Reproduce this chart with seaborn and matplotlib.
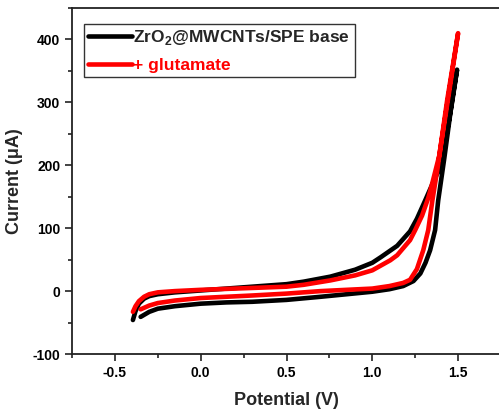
import numpy as np
import pandas as pd
import matplotlib
matplotlib.use('Agg')
import matplotlib.pyplot as plt
from matplotlib.ticker import MultipleLocator
import seaborn as sns

# cyclic voltammograms (forward scan then reverse scan)
base_v = [-0.35, -0.30, -0.25, -0.15, 0.0, 0.15, 0.30, 0.50, 0.70, 0.85, 1.00, 1.10, 1.18, 1.24, 1.28,
          1.31, 1.337, 1.366, 1.384, 1.42, 1.465, 1.494,
          1.465, 1.43, 1.40, 1.35, 1.308, 1.26, 1.22, 1.145, 1.05, 1.00, 0.90, 0.756, 0.60, 0.50, 0.30,
          0.15, 0.0, -0.15, -0.25, -0.30, -0.33, -0.36, -0.38, -0.395]
base_i = [-41, -33, -28, -24, -20, -18, -17, -14, -9, -5, -1, 3, 8, 16, 28,
          45, 65, 97, 144, 212, 303, 352,
          300, 245, 200, 170, 144, 115, 95, 72, 54, 45, 34, 23, 15, 11, 7,
          4, 1, -2, -5, -8, -12, -20, -32, -46]

glu_v = [-0.35, -0.30, -0.25, -0.15, 0.0, 0.15, 0.30, 0.50, 0.70, 0.85, 1.00, 1.10, 1.18, 1.22, 1.26,
         1.297, 1.326, 1.35, 1.38, 1.436, 1.50,
         1.44, 1.39, 1.35, 1.326, 1.29, 1.25, 1.22, 1.145, 1.105, 1.00, 0.90, 0.756, 0.60, 0.50, 0.30,
         0.0, -0.15, -0.25, -0.30, -0.33, -0.36, -0.38, -0.395]
glu_i = [-29, -23, -19, -15, -11, -9, -7, -4, 0, 2, 4, 8, 13, 18, 35,
         65, 97, 144, 195, 303, 410,
         303, 215, 172, 148, 120, 97, 81, 57, 49, 33, 25, 17, 10, 7, 5,
         2, 0, -2, -5, -9, -16, -24, -33]

labels = [r'ZrO$_\mathbf{2}$@MWCNTs/SPE base', '+ glutamate']
colors = ['black', '#ff0000']

df = pd.concat([
    pd.DataFrame({'Potential': base_v, 'Current': base_i, 'series': labels[0]}),
    pd.DataFrame({'Potential': glu_v, 'Current': glu_i, 'series': labels[1]}),
], ignore_index=True)

sns.set_style('ticks')
plt.rcParams['font.family'] = ['Liberation Sans', 'DejaVu Sans']
plt.rcParams['font.weight'] = 'bold'
plt.rcParams['axes.unicode_minus'] = False
plt.rcParams['mathtext.fontset'] = 'custom'
plt.rcParams['mathtext.bf'] = 'Liberation Sans:bold'
plt.rcParams['mathtext.rm'] = 'Liberation Sans:bold'

fig = plt.figure(figsize=(4.99, 4.17), dpi=100)
ax = fig.add_axes([72 / 499, 63 / 417, 429 / 499, 346 / 417])

sns.lineplot(data=df, x='Potential', y='Current', hue='series', palette=colors,
             sort=False, estimator=None, linewidth=3.3, ax=ax)

ax.set_xlim(-0.75, 1.75)
ax.set_ylim(-100, 450)
ax.xaxis.set_minor_locator(MultipleLocator(0.25))
ax.yaxis.set_minor_locator(MultipleLocator(50))
ax.set_xticks([-0.5, 0.0, 0.5, 1.0, 1.5])
ax.set_yticks([-100, 0, 100, 200, 300, 400])
ax.tick_params(which='major', direction='out', length=5, width=1.2, labelsize=10,
               color='#222222', labelcolor='black')
ax.tick_params(which='minor', direction='out', length=3, width=1.2, color='#222222')
for s in ax.spines.values():
    s.set_linewidth(1.3)
    s.set_color('#222222')

ax.set_xlabel('Potential (V)', fontsize=13, fontweight='bold', labelpad=9)
ax.set_ylabel('Current (μA)', fontsize=13, fontweight='bold', labelpad=7)

handles = ax.get_legend().legend_handles
leg = ax.legend(handles, labels, loc='upper left', bbox_to_anchor=(0.028, 0.954),
                borderaxespad=0, fancybox=False, framealpha=1, edgecolor='#333333',
                handlelength=2.5, handletextpad=0.1, borderpad=0.25, labelspacing=0.6,
                prop={'weight': 'bold', 'size': 12.5})
leg.get_frame().set_linewidth(1.0)
for h in leg.legend_handles:
    h.set_linewidth(3.3)
leg.get_texts()[1].set_color('#ff0000')

fig.savefig('out.png', dpi=100)
